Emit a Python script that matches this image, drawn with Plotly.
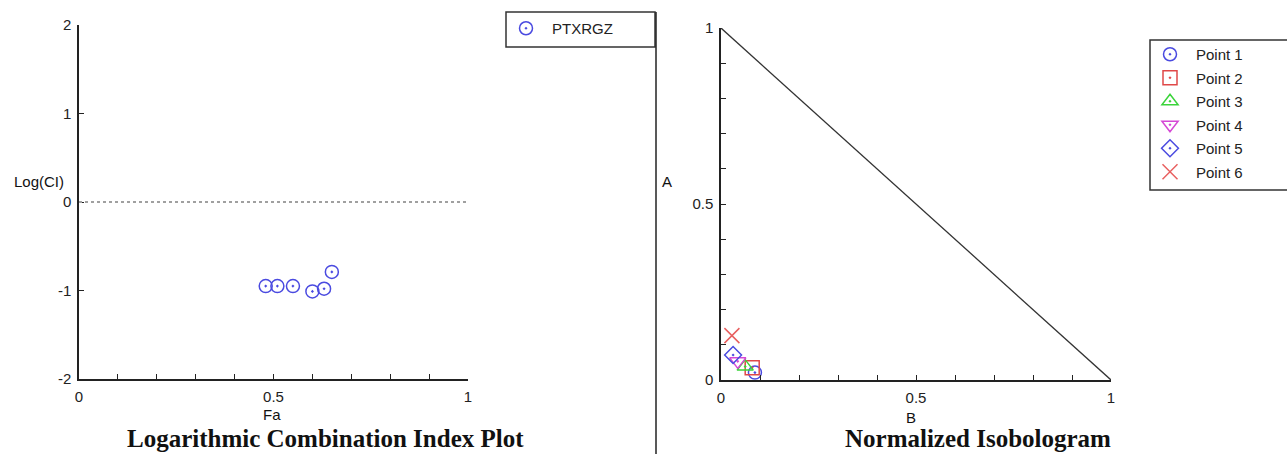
import plotly.graph_objects as go

W, H = 1287, 454

# ---- data ----
fa = [0.48, 0.51, 0.55, 0.60, 0.63, 0.65]
log_ci = [-0.95, -0.95, -0.95, -1.01, -0.98, -0.79]
series_left = "PTXRGZ"

point_names = ["Point 1", "Point 2", "Point 3", "Point 4", "Point 5", "Point 6"]
iso_b = [0.087, 0.080, 0.062, 0.043, 0.031, 0.028]
iso_a = [0.021, 0.035, 0.038, 0.053, 0.071, 0.126]

x_ticks = [0, 0.5, 1]
x_tick_text = ["0", "0.5", "1"]
y_ticks_left = [-2, -1, 0, 1, 2]
y_tick_text_left = ["-2", "-1", "0", "1", "2"]
y_ticks_right = [0, 0.5, 1]
y_tick_text_right = ["0", "0.5", "1"]

# ---- styles ----
symbols = ["circle-open-dot", "square-open-dot", "triangle-up-open-dot",
           "triangle-down-open-dot", "diamond-open-dot", "x-thin-open"]
colors = ["#4a4ae0", "#e04848", "#3ad43a", "#d548d5", "#4a4ae0", "#e86060"]
sizes = [13, 14, 14, 14, 13, 15]

FONT = "Liberation Sans, Arial, sans-serif"
SERIF = "Liberation Serif, Times New Roman, serif"


def px(xp):
    return xp / W


def py(yp):
    return 1 - yp / H


fig = go.Figure()

fig.add_trace(go.Scatter(
    x=fa, y=log_ci, mode="markers", name=series_left,
    marker=dict(symbol="circle-open-dot", size=13, color="#4a4ae0",
                line=dict(width=1.5, color="#4a4ae0")),
    xaxis="x", yaxis="y", legend="legend",
))

for i, nm in enumerate(point_names):
    fig.add_trace(go.Scatter(
        x=[iso_b[i]], y=[iso_a[i]], mode="markers", name=nm,
        marker=dict(symbol=symbols[i], size=sizes[i], color=colors[i],
                    line=dict(width=1.5, color=colors[i])),
        xaxis="x2", yaxis="y2", legend="legend2", legendgroup=nm,
    ))

axis_common = dict(
    showgrid=False, zeroline=False, showline=True, linecolor="#222",
    linewidth=1.5, ticks="inside", ticklen=5, tickcolor="#222", tickwidth=1.2,
    tickfont=dict(family=FONT, size=15, color="#222"), mirror=False,
)
minor_ticks = dict(dtick=0.1, ticks="inside", ticklen=5,
                   tickcolor="#222", tickwidth=1.2)

fig.update_layout(
    width=W, height=H,
    margin=dict(l=0, r=0, t=0, b=0, pad=0, autoexpand=False),
    paper_bgcolor="white", plot_bgcolor="white",
    xaxis=dict(domain=[px(79), px(468)], range=[0, 1], anchor="y",
               tickvals=x_ticks, ticktext=x_tick_text, ticklabelstandoff=3,
               minor=minor_ticks, **axis_common),
    yaxis=dict(domain=[py(379), py(25)], range=[-2, 2], anchor="x",
               tickvals=y_ticks_left, ticktext=y_tick_text_left,
               ticklabelstandoff=3, **axis_common),
    xaxis2=dict(domain=[px(721), px(1111)], range=[0, 1], anchor="y2",
                tickvals=x_ticks, ticktext=x_tick_text, ticklabelstandoff=3,
                minor=minor_ticks, **axis_common),
    yaxis2=dict(domain=[py(380), py(28)], range=[0, 1], anchor="x2",
                tickvals=y_ticks_right, ticktext=y_tick_text_right,
                ticklabelstandoff=3, minor=minor_ticks, **axis_common),
    legend=dict(x=px(500), y=py(12), xanchor="left", yanchor="top",
                bgcolor="rgba(0,0,0,0)", borderwidth=0, itemwidth=42,
                font=dict(family=FONT, size=15, color="#222")),
    legend2=dict(x=px(1144), y=py(38), xanchor="left", yanchor="top",
                 bgcolor="rgba(0,0,0,0)", borderwidth=0, itemwidth=42,
                 traceorder="grouped", tracegroupgap=1,
                 font=dict(family=FONT, size=15, color="#222")),
    showlegend=True,
)

# reference lines
fig.add_shape(type="line", xref="x", yref="y", x0=0, x1=1, y0=0, y1=0,
              line=dict(color="#a0a0a0", width=2, dash="dot"))
fig.add_shape(type="line", xref="x2", yref="y2", x0=0, y0=1, x1=1, y1=0,
              line=dict(color="#333", width=1.3))

# legend boxes and separator
fig.add_shape(type="rect", xref="paper", yref="paper",
              x0=px(506), x1=px(655), y0=py(47), y1=py(12),
              line=dict(color="#333", width=1.5))
fig.add_shape(type="rect", xref="paper", yref="paper",
              x0=px(1150), x1=px(1300), y0=py(190), y1=py(40),
              line=dict(color="#333", width=1.5))
fig.add_shape(type="line", xref="paper", yref="paper",
              x0=px(656), x1=px(656), y0=0, y1=py(12),
              line=dict(color="#222", width=1.5))

# axis titles and plot titles
ann = [
    dict(text="Log(CI)", x=px(39), y=py(181), size=15, family=FONT),
    dict(text="Fa", x=px(272), y=py(414), size=15, family=FONT),
    dict(text="A", x=px(667), y=py(181), size=15, family=FONT),
    dict(text="B", x=px(911), y=py(417), size=15, family=FONT),
    dict(text="<b>Logarithmic Combination Index Plot</b>", x=px(325), y=py(438),
         size=25, family=SERIF),
    dict(text="<b>Normalized Isobologram</b>", x=px(978), y=py(438),
         size=25, family=SERIF),
]
for a in ann:
    fig.add_annotation(text=a["text"], x=a["x"], y=a["y"], xref="paper",
                       yref="paper", showarrow=False, xanchor="center",
                       yanchor="middle",
                       font=dict(family=a["family"], size=a["size"], color="#111"))

fig.write_html("out.html",
               config={"displayModeBar": False},
               post_script="document.body.style.margin='0';"
                           "document.body.style.overflow='hidden';")
